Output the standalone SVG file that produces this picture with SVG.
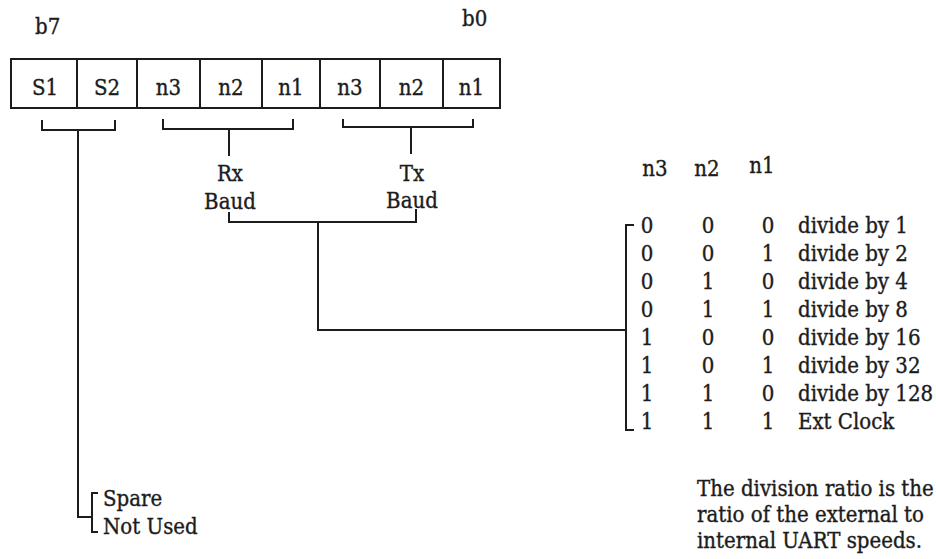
<svg xmlns="http://www.w3.org/2000/svg" width="936" height="559" viewBox="0 0 936 559">
  <style>
    text { font-family: "DejaVu Serif Condensed", "DejaVu Serif", "Liberation Serif", serif; font-stretch: condensed; font-size: 22px; fill: #1c1c1c; stroke: #1c1c1c; stroke-width: 0.35; }
    .m { text-anchor: middle; }
    .ln { fill: none; stroke: #1c1c1c; stroke-width: 2; stroke-linecap: square; }
  </style>
  <rect width="936" height="559" fill="#ffffff"/>

  <!-- bit numbering -->
  <g id="bit-labels">
    <text x="35" y="34">b7</text>
    <text x="462" y="26">b0</text>
  </g>

  <!-- 8-bit control register -->
  <g id="register">
    <rect class="ln" x="11" y="59" width="489" height="49"/>
    <path class="ln" d="M77 59V108M137 59V108M200 59V108M262 59V108M320 59V108M380 59V108M443 59V108"/>
    <text class="m" x="45" y="95">S1</text>
    <text class="m" x="107" y="95">S2</text>
    <text class="m" x="168.5" y="95">n3</text>
    <text class="m" x="231" y="95">n2</text>
    <text class="m" x="291" y="95">n1</text>
    <text class="m" x="350" y="95">n3</text>
    <text class="m" x="411.5" y="95">n2</text>
    <text class="m" x="471.5" y="95">n1</text>
  </g>

  <g id="rx-baud">
    <text class="m" x="230" y="181">Rx</text>
    <text class="m" x="230" y="209">Baud</text>
  </g>

  <g id="tx-baud">
    <text class="m" x="412" y="181">Tx</text>
    <text class="m" x="412" y="208">Baud</text>
  </g>

  <g id="spare">
    <text x="103" y="506">Spare</text>
    <text x="103" y="534">Not Used</text>
  </g>

  <!-- baud rate select table -->
  <g id="baud-table">
    <text class="m" x="655" y="176">n3</text>
    <text class="m" x="707" y="176">n2</text>
    <text class="m" x="762" y="173">n1</text>
    <g class="m">
      <text x="647" y="233">0</text><text x="708" y="233">0</text><text x="768" y="233">0</text>
      <text x="647" y="261">0</text><text x="708" y="261">0</text><text x="768" y="261">1</text>
      <text x="647" y="289">0</text><text x="708" y="289">1</text><text x="768" y="289">0</text>
      <text x="647" y="317">0</text><text x="708" y="317">1</text><text x="768" y="317">1</text>
      <text x="647" y="345">1</text><text x="708" y="345">0</text><text x="768" y="345">0</text>
      <text x="647" y="373">1</text><text x="708" y="373">0</text><text x="768" y="373">1</text>
      <text x="647" y="401">1</text><text x="708" y="401">1</text><text x="768" y="401">0</text>
      <text x="647" y="429">1</text><text x="708" y="429">1</text><text x="768" y="429">1</text>
    </g>
    <text x="798" y="233">divide by 1</text>
    <text x="798" y="261">divide by 2</text>
    <text x="798" y="289">divide by 4</text>
    <text x="798" y="317">divide by 8</text>
    <text x="798" y="345">divide by 16</text>
    <text x="798" y="373">divide by 32</text>
    <text x="798" y="401">divide by 128</text>
    <text x="798" y="429">Ext Clock</text>
  </g>

  <g id="note">
    <text x="697" y="496">The division ratio is the</text>
    <text x="697" y="522">ratio of the external to</text>
    <text x="697" y="548">internal UART speeds.</text>
  </g>

  <!-- brackets and leader lines -->
  <g id="connectors" class="ln">
    <path d="M42 121V130H115V121"/>
    <path d="M78 130V517H92"/>
    <path d="M97 493H92V532H97"/>
    <path d="M163 120V129H293V120"/>
    <path d="M229 129V155"/>
    <path d="M343 120V127H473V120"/>
    <path d="M411 127V153"/>
    <path d="M229 213V222H416V210"/>
    <path d="M318 222V330H626"/>
    <path d="M633 225H626V430H633"/>
  </g>
</svg>
